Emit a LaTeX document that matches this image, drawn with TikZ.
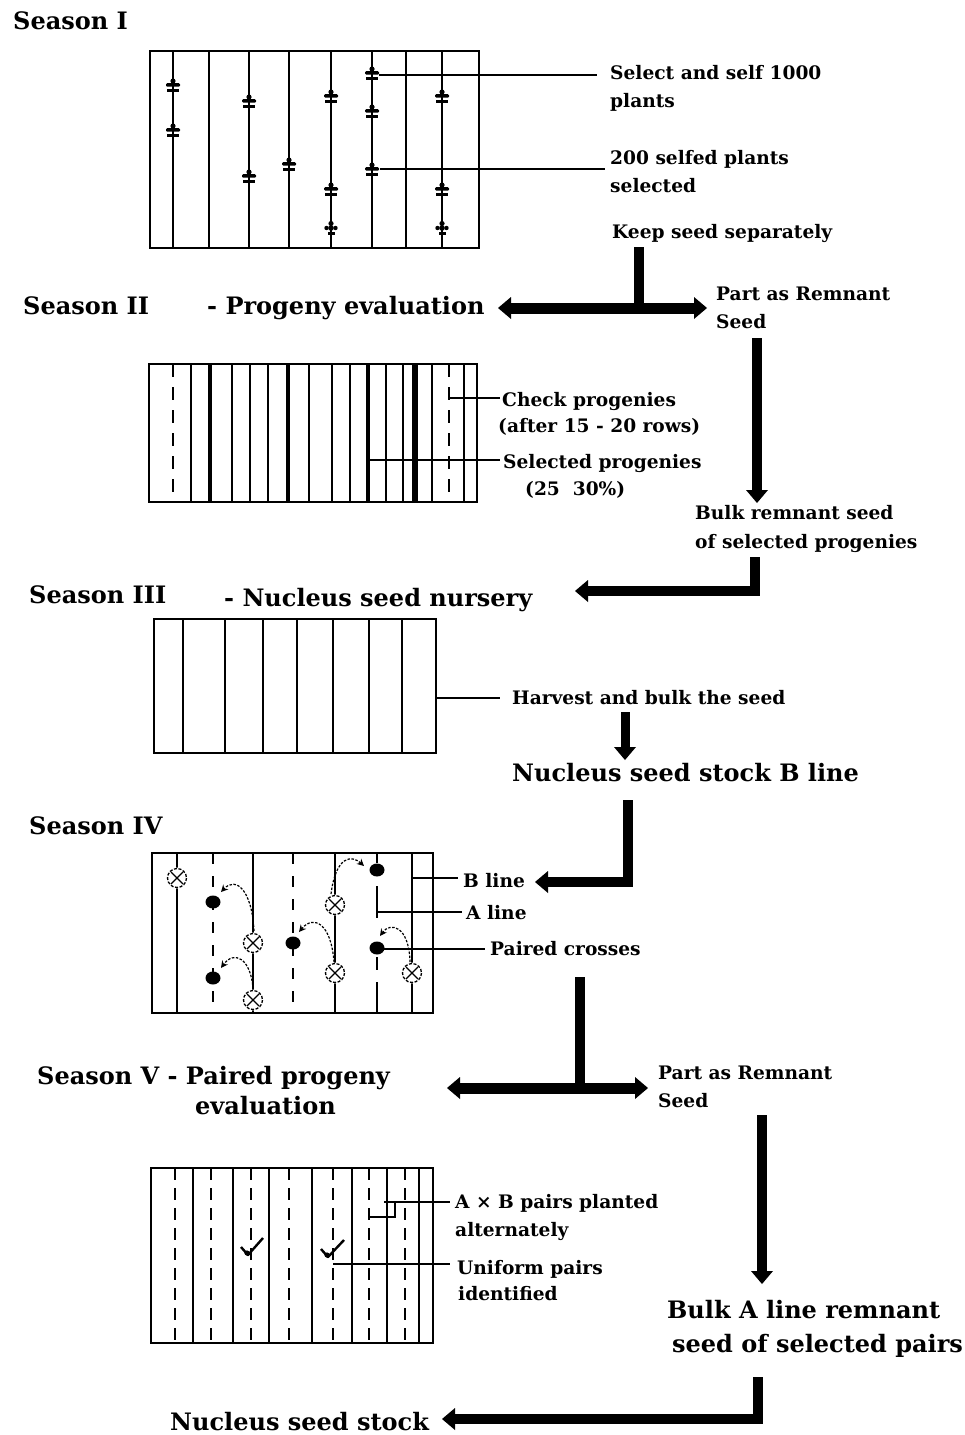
\documentclass[tikz,border=0pt]{standalone}
\usepackage{fontspec}
\setmainfont{DejaVu Serif}
\usetikzlibrary{arrows.meta,calc}

\begin{document}
\begin{tikzpicture}[x=1pt,y=-1pt,
  lbl/.style={anchor=base west,inner sep=0pt,font=\fontsize{18.6}{22}\selectfont\bfseries},
  big/.style={anchor=base west,inner sep=0pt,font=\fontsize{24}{30}\selectfont\bfseries},
  field/.style={line width=1.7pt},
  row/.style={line width=1.5pt},
  heavyrow/.style={line width=3.5pt},
  leader/.style={line width=1.5pt},
  fat/.style={line width=10.5pt,line join=miter},
  tip/.style={-{Triangle[length=13pt 0,width=22pt 0,line width=0pt]}},
  dtip/.style={{Triangle[length=13pt 0,width=22pt 0,line width=0pt]}-{Triangle[length=13pt 0,width=22pt 0,line width=0pt]}},
  hop/.style={line width=1.2pt,dash pattern=on 2.5pt off 1.5pt,-{Stealth[length=7pt,width=7pt]}},
  pics/plant/.style={code={
    \fill (0,-6) circle (2.6);
    \fill[rounded corners=1.2pt] (-7,-3.8) rectangle (7,-0.3);
    \fill (-6,1.6) rectangle (6,5.2);
  }},
  pics/sprout/.style={code={
    \fill (0,-4.5) circle (2.6);
    \fill (0,0) circle (2.8);
    \fill (-4.5,0) circle (2.2);
    \fill (4.5,0) circle (2.2);
    \fill (-3.5,3.5) rectangle (-0.8,6.5);
    \fill (0.8,3.5) rectangle (3.5,6.5);
  }},
  pics/selfed/.style={code={
    \fill[white] (0,0) circle (10.5);
    \draw[line width=1.3pt,dash pattern=on 3pt off 1.6pt] (0,0) circle (9.5);
    \draw[line width=1.2pt] (-6,-6) -- (6,6) (-6,6) -- (6,-6);
  }},
  pics/aplant/.style={code={
    \fill (0,0) ellipse (7.5 and 6.5);
  }}
]
\useasboundingbox (0,0) rectangle (964,1435);

% ---------------- Season I ----------------
\node[big] (s1) at (13,29) {Season I};
\draw[field] (150,51) rectangle (479,248);
\foreach \x in {173,209,249,289,331,372,406,442}
  \draw[row] (\x,51) -- (\x,248);
\foreach \x/\y in {173/87,173/132,249/103,249/178,289/166,331/98,331/191,
                   372/75,372/113,372/171,442/98,442/191}
  \pic at (\x,\y) {plant};
\foreach \x in {331,442}
  \pic at (\x,228) {sprout};

\node[lbl] (sel1) at (610,79) {Select and self 1000};
\node[lbl] (sel2) at (610,107) {plants};
\node[lbl] (sf1) at (610,164) {200 selfed plants};
\node[lbl] (sf2) at (610,192) {selected};
\coordinate (pa) at (379,75);
\coordinate (pb) at (380,169);
\draw[leader,shorten >=13pt] (pa) -- (pa -| sel1.west);
\draw[leader,shorten >=5pt] (pb) -- (pb -| sf1.west);

\node[lbl] (keep) at (612,238) {Keep seed separately};

% ---------------- Season II ----------------
\node[big] (s2) at (23,314) {Season II};
\node[big] (s2b) at (207,314) {- Progeny evaluation};
\node[lbl] (rem1) at (716,300) {Part as Remnant};
\node[lbl] (rem2) at (716,328) {Seed};

\coordinate (k1) at (639,247);
\coordinate (k2) at (639,308);
\coordinate (hl) at (498,308);
\coordinate (hr) at (707,308);
\draw[fat] (k1) -- (k2);
\draw[fat,line width=11pt,dtip] (hl) -- (hr);

\draw[field] (149,364) rectangle (477,502);
\foreach \x in {191,232,250,268,309,332,350,386,403,432,464}
  \draw[row] (\x,364) -- (\x,502);
\foreach \x in {210,288,368}
  \draw[heavyrow] (\x,364) -- (\x,502);
\draw[line width=5.5pt] (415,364) -- (415,502);
\foreach \x in {173,449}
  \draw[row,dash pattern=on 13pt off 10pt] (\x,364) -- (\x,502);

\node[lbl] (chk1) at (502,406) {Check progenies};
\node[lbl] (chk2) at (498,432) {(after 15 - 20 rows)};
\node[lbl] (slp1) at (503,468) {Selected progenies};
\node[lbl] (slp2) at (525,495) {(25\ \ 30\%)};
\coordinate (pc1) at (449,398);
\coordinate (pc2) at (368,460);
\draw[leader,shorten >=2pt] (pc1) -- (pc1 -| chk1.west);
\draw[leader,shorten >=3pt] (pc2) -- (pc2 -| slp1.west);

\coordinate (r1) at (757,338);
\coordinate (r2) at (757,503);
\draw[fat,tip] (r1) -- (r2);

\node[lbl] (bk1) at (695,519) {Bulk remnant seed};
\node[lbl] (bk2) at (695,548) {of selected progenies};

% ---------------- Season III ----------------
\node[big] (s3) at (29,603) {Season III};
\node[big] (s3b) at (224,606) {- Nucleus seed nursery};
\coordinate (e1) at (755,557);
\coordinate (e2) at (755,591);
\coordinate (e3) at (575,591);
\draw[fat,tip] (e1) -- (e2) -- (e3);

\draw[field] (154,619) rectangle (436,753);
\foreach \x in {183,225,263,297,333,369,402}
  \draw[row] (\x,619) -- (\x,753);
\node[lbl] (harv) at (512,704) {Harvest and bulk the seed};
\coordinate (ph) at (436,698);
\draw[leader,shorten >=12pt] (ph) -- (ph -| harv.west);

\coordinate (n1) at (625,712);
\coordinate (n2) at (625,760);
\draw[fat,line width=9pt,tip] (n1) -- (n2);
\node[big] (nsb) at (512,781) {Nucleus seed stock B line};

% ---------------- Season IV ----------------
\node[big] (s4) at (29,834) {Season IV};
\coordinate (f1) at (628,800);
\coordinate (f2) at (628,882);
\coordinate (f3) at (535,882);
\draw[fat,tip] (f1) -- (f2) -- (f3);

\draw[field] (152,853) rectangle (433,1013);
\foreach \x in {177,253,335,412}
  \draw[row] (\x,853) -- (\x,1013);
\foreach \x in {213,293}
  \draw[row,dash pattern=on 11pt off 12pt] (\x,853) -- (\x,1013);
\draw[row] (377,853) -- (377,863) (377,886) -- (377,918)
           (377,957) -- (377,970) (377,982) -- (377,1013);

\foreach \x/\y in {177/878,253/943,253/1000,335/905,335/973,412/973}
  \pic at (\x,\y) {selfed};
\foreach \x/\y in {213/902,213/978,293/943,377/870,377/948}
  \pic at (\x,\y) {aplant};

\draw[hop] (254,931) .. controls (252,890) and (236,876) .. (221,892);
\draw[hop] (253,989) .. controls (251,958) and (234,950) .. (221,968);
\draw[hop] (334,962) .. controls (331,922) and (313,915) .. (299,932);
\draw[hop] (331,894) .. controls (336,855) and (352,855) .. (364,866);
\draw[hop] (410,962) .. controls (409,925) and (390,922) .. (380,936);

\node[lbl] (bl) at (463,887) {B line};
\node[lbl] (al) at (466,919) {A line};
\node[lbl] (pcr) at (490,955) {Paired crosses};
\coordinate (lb) at (412,878);
\coordinate (la) at (377,912);
\coordinate (lp) at (384,949);
\draw[leader,shorten >=5pt] (lb) -- (lb -| bl.west);
\draw[leader,shorten >=4pt] (la) -- (la -| al.west);
\draw[leader,shorten >=5pt] (lp) -- (lp -| pcr.west);

% ---------------- Season V ----------------
\node[big] (s5) at (37,1084) {Season V - Paired progeny};
\node[big] (s5b) at (195,1114) {evaluation};
\node[lbl] (rem3) at (658,1079) {Part as Remnant};
\node[lbl] (rem4) at (658,1107) {Seed};

\coordinate (m1) at (580,977);
\coordinate (m2) at (580,1088);
\coordinate (ml) at (447,1088);
\coordinate (mr) at (648,1088);
\draw[fat] (m1) -- (m2);
\draw[fat,line width=11pt,dtip] (ml) -- (mr);

\coordinate (q1) at (762,1115);
\coordinate (q2) at (762,1284);
\draw[fat,tip] (q1) -- (q2);

\draw[field] (151,1168) rectangle (433,1343);
\foreach \x in {193,233,269,312,352,387,419}
  \draw[row] (\x,1168) -- (\x,1343);
\foreach \x in {175,211,251,289,333,369,405}
  \draw[row,dash pattern=on 12pt off 8pt] (\x,1168) -- (\x,1343);

\draw[line width=2.4pt,line join=round] (241,1247) -- (248,1255) -- (263,1238);
\fill (247,1253) circle (2.6);
\draw[line width=2.4pt,line join=round] (321,1249) -- (328,1257) -- (344,1240);
\fill (327,1255) circle (2.6);

\node[lbl] (ab1) at (455,1208) {A × B pairs planted};
\node[lbl] (ab2) at (455,1236) {alternately};
\node[lbl] (un1) at (457,1274) {Uniform pairs};
\node[lbl] (un2) at (458,1300) {identified};
\coordinate (lx) at (384,1202);
\coordinate (ly) at (369,1217);
\coordinate (lyc) at (395,1217);
\coordinate (lu) at (333,1264);
\draw[leader,shorten >=5pt] (lx) -- (lx -| ab1.west);
\draw[leader] (ly) -- (lyc) -- (lyc |- lx);
\draw[leader,shorten >=7pt] (lu) -- (lu -| un1.west);

\node[big] (ba1) at (667,1318) {Bulk A line remnant};
\node[big] (ba2) at (672,1352) {seed of selected pairs};

\coordinate (g1) at (758,1377);
\coordinate (g2) at (758,1419);
\coordinate (g3) at (442,1419);
\draw[fat,tip] (g1) -- (g2) -- (g3);
\node[big] (nss) at (170,1430) {Nucleus seed stock};

\end{tikzpicture}
\end{document}
